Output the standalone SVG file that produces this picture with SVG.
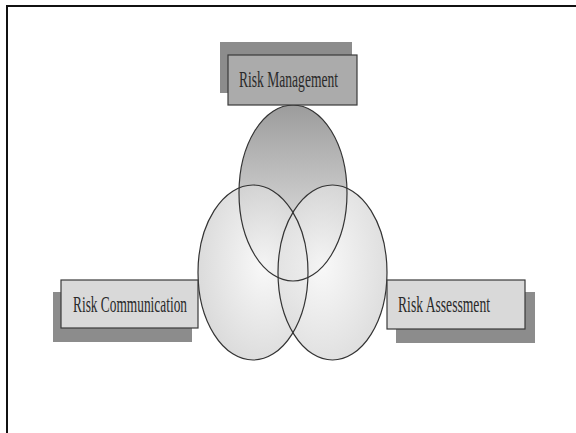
<svg xmlns="http://www.w3.org/2000/svg" width="576" height="433" viewBox="0 0 576 433">
<style>
.shadow{fill:#8c8c8c;stroke:none}
.box{stroke:#3a3a3a;stroke-width:1.2}
.lbl{font-family:"Liberation Serif","Times New Roman",serif;font-size:24px;fill:#2a2a2a}
.ring{fill:none;stroke:#333;stroke-width:1.2}
</style>
<defs>
<linearGradient id="gTop" x1="0" y1="0" x2="0" y2="1">
<stop offset="0" stop-color="#9c9c9c"/>
<stop offset="1" stop-color="#f2f2f2"/>
</linearGradient>
<radialGradient id="gSide" cx="0.6" cy="0.45" r="0.6">
<stop offset="0" stop-color="#f7f7f7"/>
<stop offset="1" stop-color="#cfcfcf"/>
</radialGradient>
<radialGradient id="gSideR" cx="0.4" cy="0.45" r="0.6">
<stop offset="0" stop-color="#f7f7f7"/>
<stop offset="1" stop-color="#d4d4d4"/>
</radialGradient>
</defs>
<rect x="0" y="0" width="576" height="433" fill="#fff"/>
<rect x="7" y="6" width="580" height="440" fill="none" stroke="#111" stroke-width="2"/>

<g id="venn">
<ellipse cx="293" cy="193" rx="54" ry="88" fill="url(#gTop)"/>
<ellipse cx="253" cy="272.5" rx="55" ry="87.5" fill="url(#gSide)" fill-opacity="0.75"/>
<ellipse cx="332.5" cy="272.5" rx="54.5" ry="87.5" fill="url(#gSideR)" fill-opacity="0.75"/>
<ellipse class="ring" cx="293" cy="193" rx="54" ry="88"/>
<ellipse class="ring" cx="253" cy="272.5" rx="55" ry="87.5"/>
<ellipse class="ring" cx="332.5" cy="272.5" rx="54.5" ry="87.5"/>
</g>

<g id="risk-management">
<rect class="shadow" x="220" y="42" width="132" height="51"/>
<rect class="box" x="228" y="55" width="129" height="50" fill="#ababab"/>
<text class="lbl" x="239" y="86.5" textLength="99" lengthAdjust="spacingAndGlyphs">Risk Management</text>
</g>

<g id="risk-communication">
<rect class="shadow" x="53" y="292" width="139" height="50"/>
<rect class="box" x="61" y="280" width="137" height="48" fill="#d9d9d9"/>
<text class="lbl" x="73" y="311.5" textLength="114" lengthAdjust="spacingAndGlyphs">Risk Communication</text>
</g>

<g id="risk-assessment">
<rect class="shadow" x="396" y="292" width="139" height="51"/>
<rect class="box" x="387" y="280" width="138" height="49" fill="#d9d9d9"/>
<text class="lbl" x="398" y="311.5" textLength="92" lengthAdjust="spacingAndGlyphs">Risk Assessment</text>
</g>
</svg>
